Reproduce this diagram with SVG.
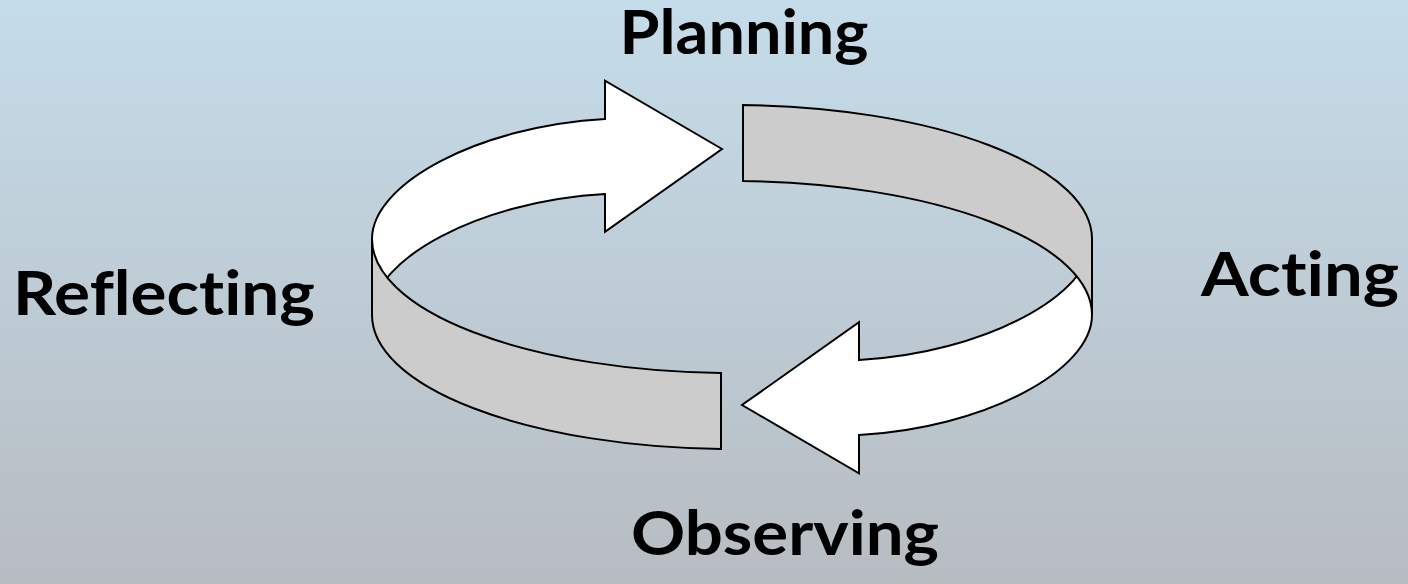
<svg xmlns="http://www.w3.org/2000/svg" width="1408" height="584" viewBox="0 0 1408 584">
  <defs>
    <linearGradient id="bg" x1="0" y1="0" x2="0" y2="1">
      <stop offset="0" stop-color="#c5dcea"/>
      <stop offset="1" stop-color="#b7bcc1"/>
    </linearGradient>
    <style>
      .arrow { fill: #ffffff; stroke: #000000; stroke-width: 2; stroke-linejoin: miter; }
      .band { fill: #cccccc; stroke: #000000; stroke-width: 2; stroke-linejoin: miter; }
      .label { font-family: Lato, "Open Sans", "Liberation Sans", sans-serif; font-weight: bold; font-size: 61px; fill: #000000; text-anchor: middle; font-variant-ligatures: none; font-feature-settings: "liga" 0, "clig" 0; }
    </style>
  </defs>
  <rect x="0" y="0" width="1408" height="584" fill="url(#bg)"/>
  <g id="cycle">
    <path id="arrow-top" class="arrow" d="M 605,119 L 605,80.7 L 722,149 L 605,231.7 L 605,194 C 480,201 372,259 372,315 L 372,239 C 372,183 480,126 605,119 Z"/>
    <path id="arrow-bottom" class="arrow" transform="rotate(180 732 277)" d="M 605,119 L 605,80.7 L 722,149 L 605,231.7 L 605,194 C 480,201 372,259 372,315 L 372,239 C 372,183 480,126 605,119 Z"/>
    <path id="band-back" class="band" d="M 743,105.06 A 360 134 0 0 1 1092,239 L 1092,315 A 360 134 0 0 0 743,181.06 Z"/>
    <path id="band-front" class="band" d="M 721,372.94 A 360 134 0 0 1 372,239 L 372,315 A 360 134 0 0 0 721,448.94 Z"/>
  </g>
  <g id="node-planning">
    <text class="label" x="744" y="54" textLength="249" lengthAdjust="spacingAndGlyphs">Planning</text>
  </g>
  <g id="node-acting">
    <text class="label" x="1300" y="296" textLength="198" lengthAdjust="spacingAndGlyphs">Acting</text>
  </g>
  <g id="node-observing">
    <text class="label" x="785" y="555" textLength="308" lengthAdjust="spacingAndGlyphs">Observing</text>
  </g>
  <g id="node-reflecting">
    <text class="label" x="164" y="315" textLength="302" lengthAdjust="spacingAndGlyphs">Reflecting</text>
  </g>
</svg>
